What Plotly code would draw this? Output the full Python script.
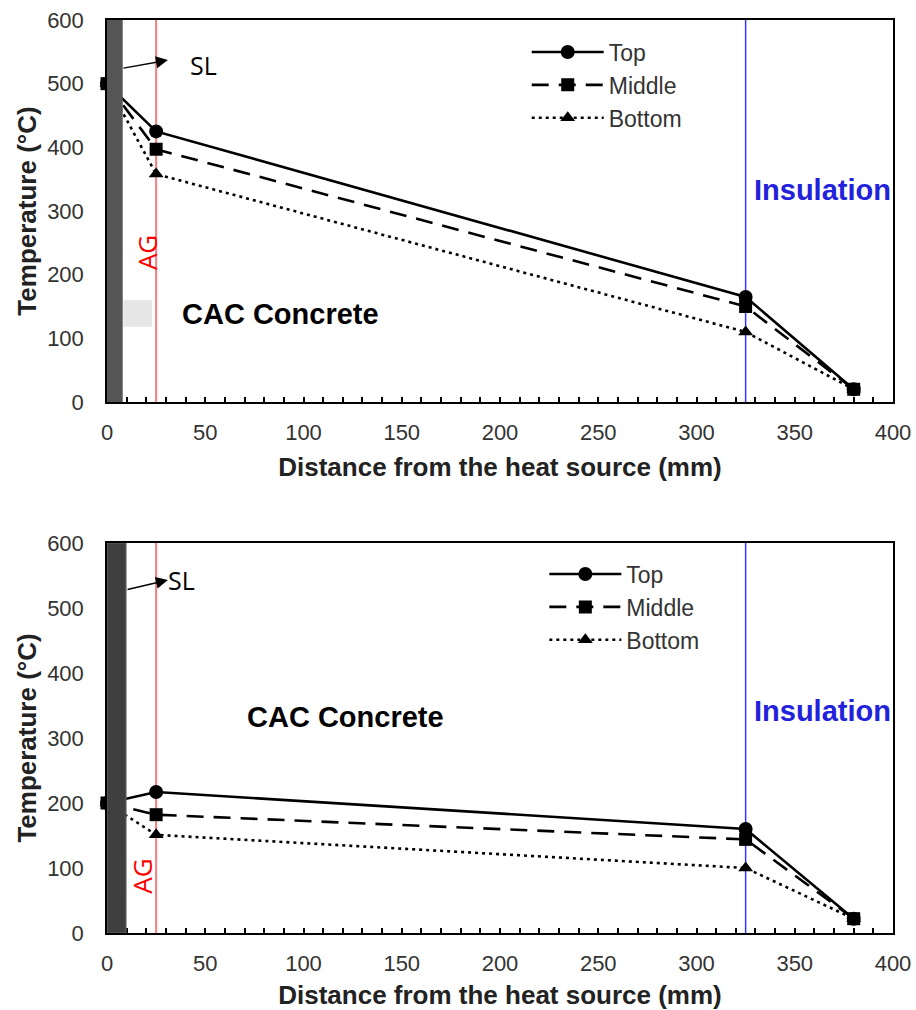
import plotly.graph_objects as go

# ---------------- data ----------------
distance = [0, 25, 325, 380]
series_names = ["Top", "Middle", "Bottom"]

top_chart_top = [500, 425, 165, 20]
top_chart_middle = [500, 397, 150, 20]
top_chart_bottom = [500, 358, 110, 20]

bottom_chart_top = [200, 217, 160, 22]
bottom_chart_middle = [200, 182, 144, 22]
bottom_chart_bottom = [200, 151, 100, 22]

x_ticks = [0, 50, 100, 150, 200, 250, 300, 350, 400]
y_ticks = [0, 100, 200, 300, 400, 500, 600]

AG_POS = 25
INSULATION_POS = 325

FONT = "Liberation Sans, Arial, sans-serif"
FONT2 = "Open Sans, Noto Sans, sans-serif"

styles = {
    "Top": dict(dash="solid", symbol="circle", size=14, rank=1),
    "Middle": dict(dash="17px,10px", symbol="square", size=13, rank=2),
    "Bottom": dict(dash="3px,4px", symbol="triangle-up", size=13, rank=3),
}

fig = go.Figure()

def add_series(name, y, xa, ya, legend):
    st = styles[name]
    fig.add_trace(go.Scatter(
        x=distance, y=y, name=name, mode="lines+markers",
        xaxis=xa, yaxis=ya, legend=legend, legendrank=st["rank"],
        line=dict(color="black", width=2.6, dash=st["dash"]),
        marker=dict(symbol=st["symbol"], size=st["size"], color="black"),
        cliponaxis=False,
    ))

# draw middle last so its square shows at x=0
for nm, yv in [("Top", top_chart_top), ("Bottom", top_chart_bottom), ("Middle", top_chart_middle)]:
    add_series(nm, yv, "x", "y", "legend")
for nm, yv in [("Top", bottom_chart_top), ("Bottom", bottom_chart_bottom), ("Middle", bottom_chart_middle)]:
    add_series(nm, yv, "x2", "y2", "legend2")

axis_common = dict(showline=True, linecolor="black", linewidth=1.5, mirror=True,
                   showgrid=False, zeroline=False, automargin=False,
                   tickfont=dict(family=FONT, size=22, color="#333"))

xaxis_common = dict(axis_common, range=[0, 400], tickmode="array", tickvals=x_ticks,
                    ticks="inside", ticklen=5, tickwidth=1.5, tickcolor="black",
                    minor=dict(dtick=10, ticks="inside", ticklen=5, tickwidth=1.5, tickcolor="black"),
                    ticklabelstandoff=10,
                    title=dict(text="<b>Distance from the heat source (mm)</b>",
                               font=dict(family=FONT, size=26, color="#222"), standoff=14))
yaxis_common = dict(axis_common, range=[0, 600], tickmode="array", tickvals=y_ticks,
                    ticks="", ticklabelstandoff=17,
                    title=dict(text="<b>Temperature (°C)</b>",
                               font=dict(family=FONT, size=26, color="#222"), standoff=3))

fig.update_layout(
    width=916, height=1010,
    margin=dict(l=107, r=23, t=20, b=77, autoexpand=False),
    plot_bgcolor="white", paper_bgcolor="white",
    showlegend=True,
    xaxis=dict(xaxis_common, domain=[0, 1], anchor="y"),
    yaxis=dict(yaxis_common, domain=[0.5816, 1.0], anchor="x"),
    xaxis2=dict(xaxis_common, domain=[0, 1], anchor="y2"),
    yaxis2=dict(yaxis_common, domain=[0.0, 0.4272], anchor="x2"),
    legend=dict(x=0.534, y=0.9885, xanchor="left", yanchor="top", itemwidth=72,
                bgcolor="rgba(0,0,0,0)", font=dict(family=FONT, size=23, color="#333")),
    legend2=dict(x=0.5564, y=0.4167, xanchor="left", yanchor="top", itemwidth=72,
                 bgcolor="rgba(0,0,0,0)", font=dict(family=FONT, size=23, color="#333")),
)

shapes = []
# heat source bars
shapes.append(dict(type="rect", xref="x", yref="y", x0=0, x1=8, y0=0, y1=600,
                   fillcolor="#555555", line=dict(width=0), layer="above"))
shapes.append(dict(type="rect", xref="x2", yref="y2", x0=0, x1=9.7, y0=0, y1=600,
                   fillcolor="#3f3f3f", line=dict(color="#666666", width=1), layer="above"))
# small grey patch
shapes.append(dict(type="rect", xref="x", yref="y", x0=8.3, x1=23, y0=118, y1=160,
                   fillcolor="#e6e6e6", line=dict(width=0), layer="below"))
for xa, ya in [("x", "y"), ("x2", "y2")]:
    shapes.append(dict(type="line", xref=xa, yref=ya, x0=AG_POS, x1=AG_POS, y0=0, y1=600,
                       line=dict(color="#f08080", width=2), layer="below"))
    shapes.append(dict(type="line", xref=xa, yref=ya, x0=INSULATION_POS, x1=INSULATION_POS, y0=0, y1=600,
                       line=dict(color="#3535ff", width=1.5), layer="below"))
fig.update_layout(shapes=shapes)

ann = []
def text(xa, ya, x, y, t, size, color="black", bold=False, angle=0, family=FONT, xanchor="center"):
    ann.append(dict(xref=xa, yref=ya, x=x, y=y, text=f"<b>{t}</b>" if bold else t,
                    showarrow=False, textangle=angle, xanchor=xanchor,
                    font=dict(family=family, size=size, color=color)))

def arrow(xa, ya, x, y, ax, ay):
    ann.append(dict(xref=xa, yref=ya, axref=xa, ayref=ya, x=x, y=y, ax=ax, ay=ay,
                    text="", showarrow=True, arrowhead=2, arrowsize=1.6, arrowwidth=1.5,
                    arrowcolor="black"))

# top chart
text("x", "y", 37, 138, "CAC Concrete", 29, bold=True, xanchor="left")
text("x", "y", 400, 333, "Insulation", 29, color="#2222dd", bold=True, xanchor="right")
text("x", "y", 20.4, 234, "AG", 26, color="red", angle=-90, family=FONT2)
text("x", "y", 49, 530, "SL", 25, family=FONT2)
arrow("x", "y", 31, 537, 7.6, 524)
# bottom chart
text("x2", "y2", 70, 332, "CAC Concrete", 29, bold=True, xanchor="left")
text("x2", "y2", 400, 341.5, "Insulation", 29, color="#2222dd", bold=True, xanchor="right")
text("x2", "y2", 17.8, 88, "AG", 26, color="red", angle=-90, family=FONT2)
text("x2", "y2", 38, 543, "SL", 25, family=FONT2)
arrow("x2", "y2", 31, 543, 9.7, 528)
fig.update_layout(annotations=ann)

fig.write_html("out.html")
